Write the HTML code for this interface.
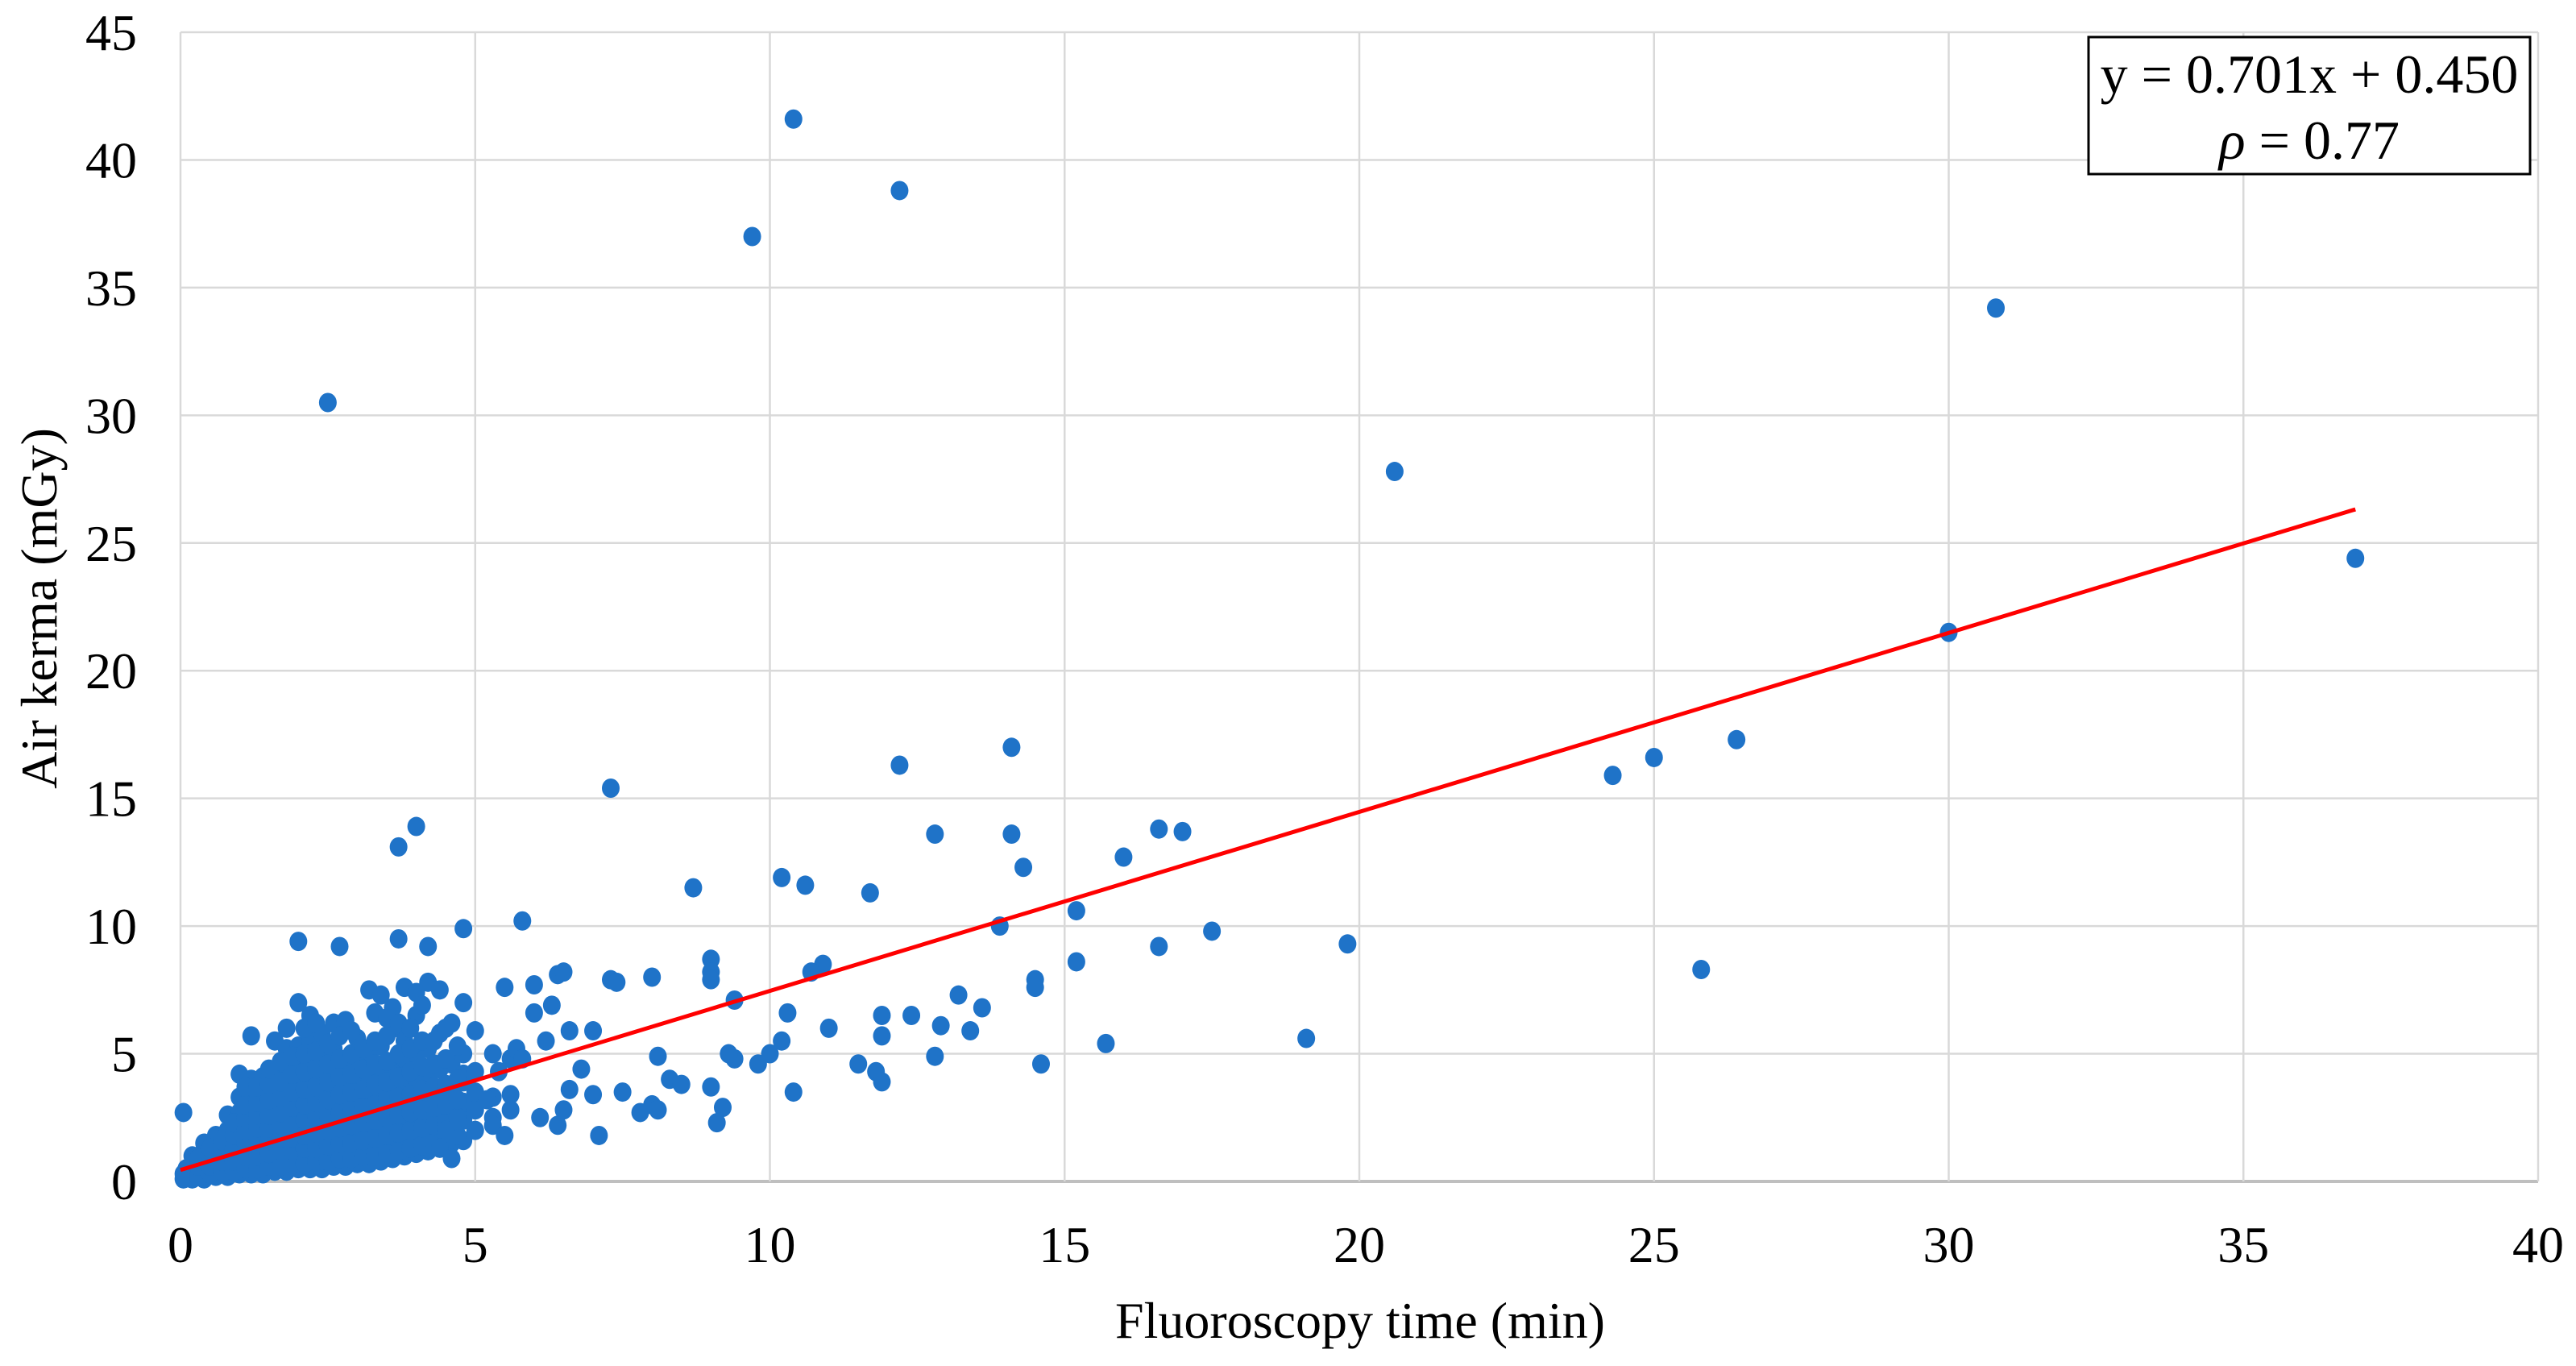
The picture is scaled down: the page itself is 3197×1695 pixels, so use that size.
<!DOCTYPE html>
<html><head><meta charset="utf-8"><style>
html,body{margin:0;padding:0;background:#fff;}
svg{display:block;font-family:"Liberation Serif",serif;}
</style></head><body>
<svg id="chart" width="3197" height="1695" viewBox="0 0 3197 1695" xmlns="http://www.w3.org/2000/svg">
<g id="grid"></g>
<g id="ticks"></g>
<g id="points"></g>
<g id="trend"></g>
<text x="0" y="0" transform="translate(70,755) rotate(-90)" text-anchor="middle" font-size="64">Air kerma (mGy)</text>
<text x="1688" y="1660" text-anchor="middle" font-size="64">Fluoroscopy time (min)</text>
<g>
<rect x="2592" y="46" width="548" height="170" fill="#fff" stroke="#000" stroke-width="3"/>
<text x="2866" y="115" text-anchor="middle" font-size="68">y = 0.701x + 0.450</text>
<text x="2866" y="197" text-anchor="middle" font-size="68"><tspan font-style="italic">ρ</tspan> = 0.77</text>
</g>
</svg>
<script>
const xTicks=[0,5,10,15,20,25,30,35,40];
const yTicks=[0,5,10,15,20,25,30,35,40,45];
const slope=0.701, intercept=0.450, fitMaxX=36.9;
const outX=[2.5,9.7,10.4,12.2,30.8,20.6,36.9,30.0,24.3,25.0,26.4,25.8,14.1,12.2,7.3,3.7,4.0,12.8,14.1,16.6,17.0,16.0,14.3,10.2,10.6,11.7,8.7,15.2,5.8,13.9,17.5,16.6,19.8,2.0,2.7,3.7,4.2,4.8,9.0,9.0,9.0,10.9,10.7,15.2,14.5,14.5,13.2,13.6,9.4,10.3,11.9,12.4,11.9,12.9,13.4,11.0,12.8,14.6,15.7,19.1,11.5,11.8,11.9,10.4,10.2,10.0,9.8,9.4,9.0,9.2,9.1,9.3,8.0,7.3,7.4,6.4,6.5,6.0,6.3,5.5,6.0,8.1,8.3,8.5,8.0,8.1,7.8,7.1,7.5,7.0,6.6,6.8,7.0,6.6,6.2,5.7,5.8,5.4,5.2,5.3,4.5,4.4,4.6,5.5,6.1,6.4,6.5];
const outY=[30.5,37,41.6,38.8,34.2,27.8,24.4,21.5,15.9,16.6,17.3,8.3,17.0,16.3,15.4,13.1,13.9,13.6,13.6,13.8,13.7,12.7,12.3,11.9,11.6,11.3,11.5,10.6,10.2,10.0,9.8,9.2,9.3,9.4,9.2,9.5,9.2,9.9,8.7,8.2,7.9,8.5,8.2,8.6,7.9,7.6,7.3,6.8,7.1,6.6,6.5,6.5,5.7,6.1,5.9,6.0,4.9,4.6,5.4,5.6,4.6,4.3,3.9,3.5,5.5,5.0,4.6,4.8,3.7,2.9,2.3,5.0,8.0,7.9,7.8,8.1,8.2,6.6,6.9,7.6,7.7,4.9,4.0,3.8,3.0,2.8,2.7,1.8,3.5,3.4,3.6,4.4,5.9,5.9,5.5,5.2,4.8,4.3,3.2,2.2,2.0,1.3,0.9,1.8,2.5,2.2,2.8];
const colX=[0.05,0.2,0.4,0.6,0.8,1.0,1.2,1.4,1.6,1.8,2.0,2.2,2.4,2.6,2.8,3.0,3.2,3.4,3.6,3.8,4.0,4.2,4.4,4.6,4.8,5.0,5.3,5.6,0.1,0.3,0.5,0.7,0.9,1.1,1.3,1.5,1.7,1.9,2.1,2.3,2.5,2.7,2.9,3.1,3.3,3.5,3.7,3.9,4.1,4.3,4.5,4.7];
const colY=[[0.1,0.3,2.7],[0.1,0.4,0.7,1.0],[0.1,0.4,0.8,1.2,1.5],[0.2,0.6,1.0,1.4,1.8],[0.2,0.6,1.0,1.5,2.0,2.6],[0.3,0.7,1.2,1.7,2.2,2.7,3.3,4.2],[0.3,0.8,1.3,1.8,2.3,2.8,3.4,4.0,5.7],[0.3,0.8,1.3,1.8,2.3,2.9,3.5,4.1],[0.4,0.9,1.4,1.9,2.4,3.0,3.6,4.3,5.5],[0.4,0.9,1.4,2.0,2.6,3.2,3.8,4.5,5.2,6.0],[0.5,1.0,1.5,2.1,2.7,3.3,3.9,4.6,5.3,7.0],[0.5,1.0,1.6,2.2,2.8,3.4,4.0,4.7,5.5,6.5],[0.5,1.1,1.7,2.3,2.9,3.5,4.2,4.9,5.8],[0.6,1.2,1.8,2.4,3.0,3.7,4.4,5.2,6.2],[0.6,1.2,1.8,2.5,3.1,3.8,4.6,6.3],[0.7,1.3,1.9,2.6,3.3,4.0,4.8,5.6],[0.7,1.4,2.0,2.7,3.4,4.1,5.0,7.5],[0.8,1.5,2.1,2.8,3.5,4.3,5.3,7.3],[0.9,1.6,2.2,2.9,3.6,4.5,6.0,6.8],[1.0,1.7,2.4,3.1,3.8,4.8,5.5,7.6],[1.1,1.8,2.5,3.2,4.0,5.0,6.5,7.4],[1.2,1.9,2.6,3.3,4.2,5.2,7.8],[1.3,2.0,2.7,3.4,4.4,5.8,7.5],[1.5,2.2,2.9,3.6,4.6,6.2],[1.6,2.4,3.1,3.9,4.2,5.0,7.0],[2.0,2.8,3.5,4.3,5.9],[2.5,3.3,5.0],[2.8,3.4,4.8],
[0.2,0.5],[0.2,0.6,0.9],[0.3,0.6,1.0,1.3],[0.4,0.8,1.2,1.6],[0.4,0.8,1.3,1.8,2.3],[0.5,1.0,1.5,2.0,2.5,3.0,3.7],[0.5,1.0,1.6,2.1,2.6,3.1,3.7],[0.6,1.1,1.6,2.1,2.6,3.2,3.8,4.4],[0.6,1.2,1.7,2.2,2.7,3.3,3.9,4.7],[0.7,1.2,1.7,2.3,2.9,3.5,4.2,4.9],[0.7,1.3,1.8,2.4,3.0,3.6,4.3,5.0,6.0],[0.8,1.3,1.9,2.5,3.1,3.7,4.4,5.1,6.2],[0.8,1.4,2.0,2.6,3.2,3.9,4.6,5.4],[0.9,1.5,2.1,2.7,3.4,4.1,4.8,5.7],[0.9,1.5,2.2,2.8,3.5,4.2,5.0,5.9],[1.0,1.6,2.3,2.9,3.6,4.4,5.2],[1.0,1.7,2.4,3.0,3.8,4.6,5.5,6.6],[1.1,1.8,2.5,3.2,3.9,4.7,5.7,6.4],[1.2,1.9,2.6,3.3,4.1,5.0,6.2],[1.3,2.0,2.7,3.4,4.3,5.2,6.0],[1.4,2.1,2.8,3.6,4.5,5.5,6.9],[1.5,2.2,2.9,3.7,4.6,5.5],[1.6,2.3,3.0,3.8,4.8,6.0],[1.8,2.5,3.2,4.0,5.3]];
const NS='http://www.w3.org/2000/svg';
const L=224,R=3150,T=40,B=1466;
const sx=v=>L+(v-0)/(40-0)*(R-L);
const sy=v=>B-(v-0)/(45-0)*(B-T);
function mk(tag,attrs,parent){const e=document.createElementNS(NS,tag);for(const k in attrs)e.setAttribute(k,attrs[k]);parent.appendChild(e);return e;}
const grid=document.getElementById('grid'),ticks=document.getElementById('ticks'),pts=document.getElementById('points'),trend=document.getElementById('trend');
yTicks.forEach(v=>{
 const ln=mk('line',{x1:L,x2:R,y1:sy(v),y2:sy(v),stroke:v===0?'#bfbfbf':'#d9d9d9','stroke-width':v===0?4:2.5},grid);
 
 
 const t=mk('text',{x:170,y:sy(v)+22,'text-anchor':'end','font-size':64},ticks);
 
 
 t.textContent=v;
});
xTicks.forEach(v=>{
 const ln=mk('line',{x1:sx(v),x2:sx(v),y1:T,y2:B,stroke:'#d9d9d9','stroke-width':2.5},grid);
 
 
 const t=mk('text',{x:sx(v),y:1566,'text-anchor':'middle','font-size':64},ticks);
 
 
 t.textContent=v;
});
function dot(x,y){
 const c=mk('ellipse',{cx:sx(x),cy:sy(y),rx:11,ry:12,fill:'#1f73c8'},pts);
 
 
}
colX.forEach((x,i)=>colY[i].forEach(y=>dot(x,y)));
outX.forEach((x,i)=>dot(x,outY[i]));
const fl=mk('line',{x1:sx(0),y1:sy(intercept),x2:sx(fitMaxX),y2:sy(slope*fitMaxX+intercept),stroke:'#ff0000','stroke-width':5},trend);


</script>
</body></html>
